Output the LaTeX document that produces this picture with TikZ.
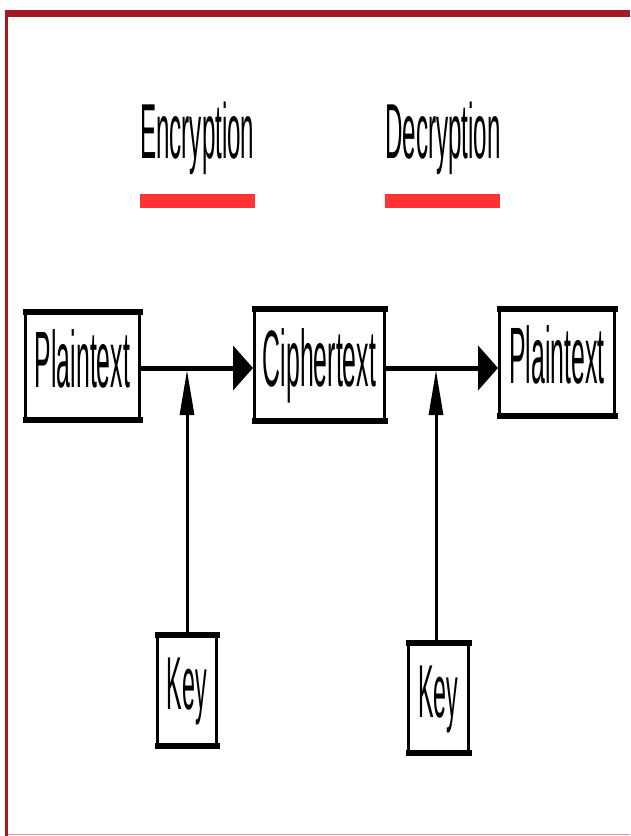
\documentclass[tikz,border=0pt]{standalone}
\usepackage{fontspec}
\setmainfont{Liberation Sans}
\usetikzlibrary{arrows.meta}
\definecolor{framered}{HTML}{A31A22}
\definecolor{framepink}{RGB}{215,150,155}
\definecolor{barred}{HTML}{FF3333}
% condensed lettering
\newcommand{\narrow}[2]{\scalebox{0.31}[1]{\fontsize{#1}{#1}\selectfont #2}}

\begin{document}
\begin{tikzpicture}[x=1pt,y=-1pt,
  boxed/.style={draw, line width=3pt, inner sep=0pt, text height=57pt, text depth=14pt},
  keybox/.style={draw, line width=3pt, inner sep=0pt, text height=53pt, text depth=14pt},
  title/.style={inner sep=0pt, anchor=base west},
  flow/.style={line width=5pt, -{Triangle[length=20pt,width=44pt]}},
  keyflow/.style={line width=3pt, -{Triangle[length=45pt,width=14pt]}},
  heavy/.style={line width=6pt, shorten <=-1.5pt, shorten >=-1.5pt}
]
\useasboundingbox (0,0) rectangle (630,836);

% page frame
\fill[framered] (5,10) rectangle (630,17);
\fill[framered] (5,10) rectangle (7.5,836);
\draw[framepink, line width=1.5pt] (7.5,834.5) -- (630,834.5);

% headings with red underlines
\node[title] (enc) at (140,158) {\narrow{78pt}{Encryption}};
\node[title] (dec) at (385,158) {\narrow{78pt}{Decryption}};
\fill[barred] (140,194) rectangle (255,208);
\fill[barred] (385,194) rectangle (500,208);

% boxes
\node[boxed, minimum width=114pt, minimum height=108pt] (p1) at (82.5,365.5) {\narrow{80pt}{Plaintext}};
\node[boxed, minimum width=130pt, minimum height=112pt] (c) at (319.5,364.5) {\narrow{80pt}{Ciphertext}};
\node[boxed, minimum width=115pt, minimum height=107pt] (p2) at (557,362) {\narrow{80pt}{Plaintext}};
\node[keybox, minimum width=59pt, minimum height=111pt] (k1) at (187,690) {\narrow{75pt}{Key}};
\node[keybox, minimum width=60pt, minimum height=110pt] (k2) at (438.5,697.5) {\narrow{75pt}{Key}};

% heavy top and bottom edges
\foreach \n in {p1,c,p2,k1,k2} {
  \draw[heavy] ([yshift=-1.5pt]\n.north west) -- ([yshift=-1.5pt]\n.north east);
  \draw[heavy] ([yshift=1.5pt]\n.south west) -- ([yshift=1.5pt]\n.south east);
}

% junctions where the keys meet the main flow
\coordinate (j1) at (187,370);
\coordinate (j2) at (436,370);
\coordinate (m1) at (187,368);
\coordinate (m2) at (436,368);

% main flow
\draw[flow] (p1.east |- m1) -- (c.west |- m1);
\draw[flow] (c.east |- m2) -- (p2.west |- m2);

% key inputs
\draw[keyflow] (k1.north) -- (j1);
\draw[keyflow] (j2 |- k2.north) -- (j2);
\end{tikzpicture}
\end{document}
